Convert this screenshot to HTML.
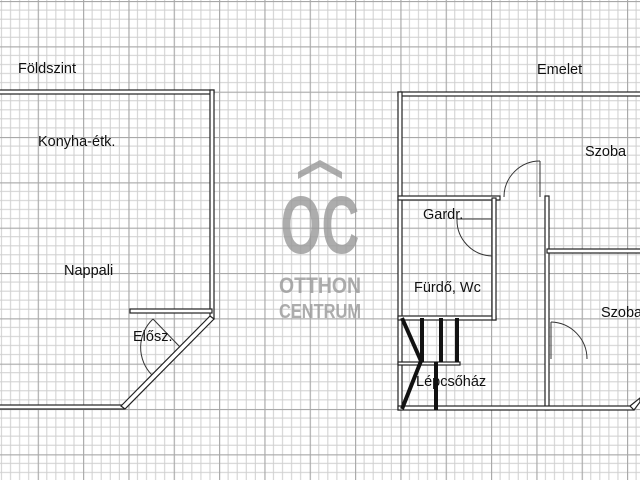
<!DOCTYPE html>
<html><head><meta charset="utf-8"><style>
html,body{margin:0;padding:0;background:#fff;}
svg{display:block;}
text{font-family:"Liberation Sans",sans-serif;}
</style></head><body>
<svg width="640" height="480" viewBox="0 0 640 480" xmlns="http://www.w3.org/2000/svg">
<defs>
<pattern id="g" x="-7.6" y="1" width="45.33" height="45.33" patternUnits="userSpaceOnUse">
<rect width="45.33" height="45.33" fill="#fff"/>
<g stroke="#cfcfcf" stroke-width="1">
<line x1="9.07" y1="0" x2="9.07" y2="45.33"/><line x1="18.13" y1="0" x2="18.13" y2="45.33"/><line x1="27.2" y1="0" x2="27.2" y2="45.33"/><line x1="36.27" y1="0" x2="36.27" y2="45.33"/>
<line y1="9.07" x1="0" y2="9.07" x2="45.33"/><line y1="18.13" x1="0" y2="18.13" x2="45.33"/><line y1="27.2" x1="0" y2="27.2" x2="45.33"/><line y1="36.27" x1="0" y2="36.27" x2="45.33"/>
</g>
<g stroke="#a8a8a8" stroke-width="1.3"><line x1="0.5" y1="0" x2="0.5" y2="45.33"/><line y1="0.5" x1="0" y2="0.5" x2="45.33"/></g>
</pattern>
</defs>
<rect width="640" height="480" fill="url(#g)"/>

<!-- logo -->
<g fill="#999" opacity="0.8">
<polygon points="298,172 320,160 342,172 342,179 320,167 298,179"/>
<text x="320" y="253" font-size="82" text-anchor="middle" font-weight="bold" transform="translate(320,0) scale(0.64,1) translate(-320,0)">OC</text>
<text x="320" y="293" font-size="22" text-anchor="middle" font-weight="bold" textLength="82" lengthAdjust="spacingAndGlyphs">OTTHON</text>
<text x="320" y="318" font-size="20" text-anchor="middle" font-weight="bold" textLength="82" lengthAdjust="spacingAndGlyphs">CENTRUM</text>
</g>

<g fill="#fff" stroke="#222" stroke-width="1.2">
<rect x="-2" y="90" width="216" height="4"/>
<rect x="210" y="90" width="4" height="229"/>
<rect x="130" y="309" width="82" height="4"/>
<rect x="-2" y="405" width="126" height="4"/>
<polygon points="210,316 214,319 125,409 121,406"/>
<rect x="398" y="92" width="244" height="4"/>
<rect x="398" y="92" width="4" height="318"/>
<rect x="398" y="196" width="102" height="4"/>
<rect x="398" y="316" width="98" height="4"/>
<rect x="492" y="198" width="4" height="122"/>
<rect x="545" y="196" width="4" height="214"/>
<rect x="547" y="249" width="95" height="4"/>
<rect x="398" y="362" width="62" height="3"/>
<rect x="398" y="406" width="236" height="4"/>
<polygon points="630,406 640,398 640,402 634,410"/>
</g>

<g fill="none" stroke="#333" stroke-width="1">
<line x1="180" y1="347" x2="153" y2="319"/>
<path d="M153,319 A39,39 0 0,0 152,375"/>
<line x1="540" y1="197" x2="540" y2="161"/>
<path d="M540,161 A36,36 0 0,0 504,197"/>
<line x1="492" y1="219" x2="457" y2="219"/>
<path d="M457,219 A36,36 0 0,0 492,256"/>
<line x1="551" y1="359" x2="551" y2="322"/>
<path d="M551,322 A37,37 0 0,1 587,359"/>
</g>

<g stroke="#111" stroke-width="4" fill="none">
<polyline points="402,318 421,361 402,409"/>
<line x1="422" y1="318" x2="422" y2="362"/>
<line x1="441" y1="318" x2="441" y2="362"/>
<line x1="457" y1="318" x2="457" y2="362"/>
<line x1="436" y1="362" x2="436" y2="410"/>
</g>

<g font-size="14.5" fill="#111">
<text x="18" y="73">Földszint</text>
<text x="537" y="74">Emelet</text>
<text x="38" y="146">Konyha-étk.</text>
<text x="64" y="275">Nappali</text>
<text x="133" y="341">Elősz.</text>
<text x="585" y="156">Szoba</text>
<text x="423" y="219">Gardr.</text>
<text x="414" y="292">Fürdő, Wc</text>
<text x="601" y="317">Szoba</text>
<text x="416" y="386">Lépcsőház</text>
</g>
</svg>
</body></html>
